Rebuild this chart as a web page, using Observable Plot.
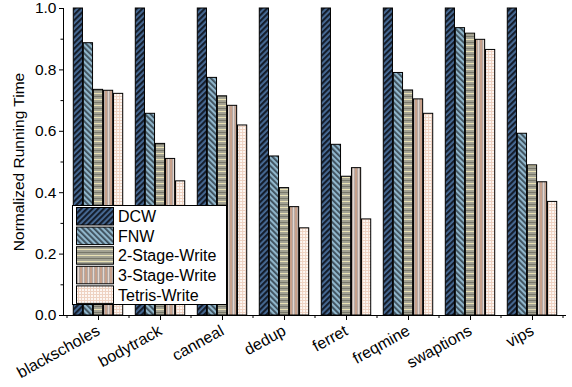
<!DOCTYPE html>
<html>
<head>
<meta charset="utf-8">
<script src="https://cdn.jsdelivr.net/npm/d3@7"></script>
<script src="https://cdn.jsdelivr.net/npm/@observablehq/plot@0.6"></script>
<style>
  html, body { margin: 0; padding: 0; background: #fff; }
  #chart svg { font-family: "Liberation Sans", Arial, sans-serif; }
</style>
</head>
<body>
<svg width="0" height="0" style="position:absolute">
  <defs>
    <pattern id="p0" patternUnits="userSpaceOnUse" width="4" height="4" patternTransform="rotate(45)">
      <rect width="4" height="4" fill="#4a6e9a"/>
      <rect width="2.2" height="4" fill="#141d2b"/>
    </pattern>
    <pattern id="p1" patternUnits="userSpaceOnUse" width="4" height="4" patternTransform="rotate(-45)">
      <rect width="4" height="4" fill="#90b6cb"/>
      <rect width="1.8" height="4" fill="#3b4c58"/>
    </pattern>
    <pattern id="p2" patternUnits="userSpaceOnUse" width="6" height="6">
      <rect width="6" height="6" fill="#a3a293"/>
      <rect y="0" width="6" height="1" fill="#77776a"/>
      <rect y="3" width="6" height="1" fill="#e9e1b4"/>
    </pattern>
    <pattern id="p3" patternUnits="userSpaceOnUse" width="5" height="5">
      <rect width="5" height="5" fill="#b4aaa6"/>
      <rect x="0" width="2" height="5" fill="#c7a08a"/>
      <rect x="3" width="1" height="5" fill="#e6d8d0"/>
    </pattern>
    <pattern id="p4" patternUnits="userSpaceOnUse" width="3" height="3">
      <rect width="3" height="3" fill="#fdf7f3"/>
      <rect width="3" height="1" fill="#eed2c2"/>
      <rect width="1" height="3" fill="#eed2c2"/>
    </pattern>
  </defs>
</svg>
<div id="chart"></div>
<script>
const categories = ["blackscholes", "bodytrack", "canneal", "dedup", "ferret", "freqmine", "swaptions", "vips"];
const seriesNames = ["DCW", "FNW", "2-Stage-Write", "3-Stage-Write", "Tetris-Write"];
const dcw    = [1.000, 1.000, 1.000, 1.000, 1.000, 1.000, 1.000, 1.000];
const fnw    = [0.887, 0.657, 0.774, 0.518, 0.556, 0.790, 0.936, 0.592];
const stage2 = [0.735, 0.559, 0.714, 0.415, 0.452, 0.733, 0.918, 0.489];
const stage3 = [0.732, 0.510, 0.683, 0.353, 0.480, 0.704, 0.898, 0.434];
const tetris = [0.722, 0.437, 0.619, 0.284, 0.313, 0.657, 0.865, 0.370];
const yMajor = [0, 0.2, 0.4, 0.6, 0.8, 1.0];
const yMinor = [0.1, 0.3, 0.5, 0.7, 0.9];

const seriesValues = [dcw, fnw, stage2, stage3, tetris];

const W = 572, H = 387;
const mL = 63, mR = 6, mT = 8, mB = 72;
const step = (W - mL - mR) / categories.length;
const barW = step * 0.16;
const inset = (step - barW) / 2;

const barMarks = seriesValues.map((vals, j) =>
  Plot.barY(categories.map((c, i) => ({cat: c, v: vals[i]})), {
    x: "cat", y: "v",
    fill: `url(#p${j})`,
    stroke: "#000", strokeWidth: 1,
    insetLeft: inset, insetRight: inset,
    dx: (j - 2) * barW
  })
);

const plot = Plot.plot({
  width: W, height: H,
  marginLeft: mL, marginRight: mR, marginTop: mT, marginBottom: mB,
  style: {fontFamily: '"Liberation Sans", Arial, sans-serif', background: "#fff"},
  x: {domain: categories, padding: 0},
  y: {domain: [0, 1]},
  marks: [
    ...barMarks,
    Plot.ruleY([0], {stroke: "#000", strokeWidth: 1}),
    Plot.frame({anchor: "left", stroke: "#000"}),
    Plot.axisX({tickSize: 5, tickRotate: -29, fontSize: 16, label: null, tickPadding: 9}),
    Plot.axisY({ticks: yMajor, tickSize: 4, tickFormat: d3.format(".1f"), fontSize: 15.5, label: null, tickPadding: 3}),
    Plot.axisY({ticks: yMinor, tickSize: 2.5, tickFormat: () => "", label: null}),
    Plot.text(["Normalized Running Time"], {frameAnchor: "left", textAnchor: "middle", rotate: -90, dx: -44, dy: 0, fontSize: 15.5})
  ]
});

// minor x ticks at category boundaries
const xs = plot.scale("x");
const svg = d3.select(plot.tagName === "svg" ? plot : plot.querySelector("svg"));
const y0 = H - mB;
const bounds = categories.map(c => xs.apply(c)).concat([xs.apply(categories[categories.length - 1]) + xs.bandwidth]);
svg.append("g").selectAll("line").data(bounds).join("line")
  .attr("x1", d => d).attr("x2", d => d)
  .attr("y1", y0).attr("y2", y0 + 3)
  .attr("stroke", "#000");

// legend
const lg = svg.append("g").attr("font-size", 16).attr("text-anchor", "start")
  .attr("font-family", '"Liberation Sans", Arial, sans-serif');
lg.append("rect").attr("x", 72.5).attr("y", 205.5).attr("width", 154).attr("height", 99)
  .attr("fill", "#fff").attr("stroke", "#000");
seriesNames.forEach((s, i) => {
  const yy = 207.5 + i * 19.6;
  lg.append("rect").attr("x", 76.5).attr("y", yy).attr("width", 37).attr("height", 17.5)
    .attr("fill", `url(#p${i})`).attr("stroke", "#000");
  lg.append("text").attr("x", 118).attr("y", yy + 9).attr("dy", "0.36em").attr("fill", "#000").text(s);
});

document.getElementById("chart").appendChild(plot);
</script>
</body>
</html>
